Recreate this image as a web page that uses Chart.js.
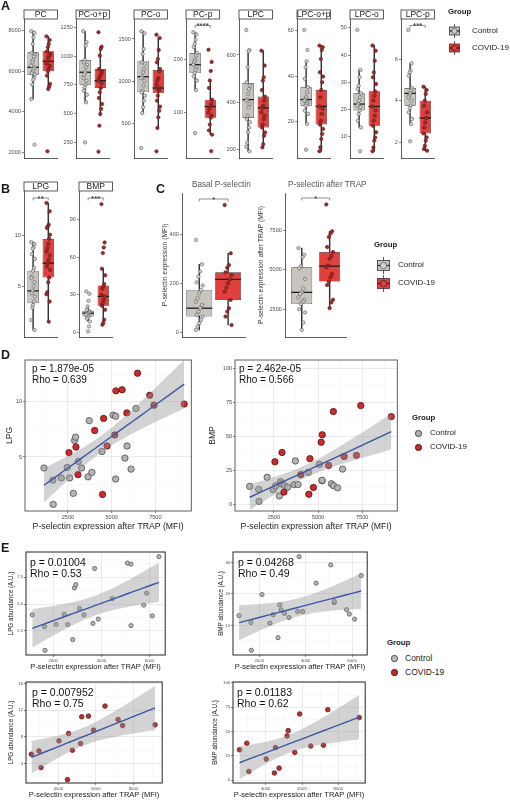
<!DOCTYPE html>
<html>
<head>
<meta charset="utf-8">
<title>Lipids and P-selectin in COVID-19</title>
<script src="https://cdn.jsdelivr.net/npm/chart.js"></script>
<style>
  body { margin: 0; background: #fff; }
  #fig { position: relative; width: 510px; height: 800px; overflow: hidden; font-family: "Liberation Sans", Arial, sans-serif; color: #1a1a1a; }
  #fig canvas { position: absolute; }
  .t { position: absolute; white-space: nowrap; line-height: 1; }
  .lbl { font-weight: bold; font-size: 12.5px; }
  .grp { font-weight: bold; font-size: 7.8px; }
  .leg { font-size: 8px; }
  .leg2 { font-size: 8.5px; }
  .stat { font-size: 10px; color: #111; }
  .stat2 { font-size: 10.5px; color: #111; }
  .ttl { font-size: 8.2px; color: #555; }
</style>
</head>
<body>
<div id="fig"></div>
<script>
// ---------- data: panel A (lipid classes by group) ----------
const groups = ['Control', 'COVID-19'];

const pcControl = [7970, 7890, 7670, 7340, 6900, 6820, 6720, 6550, 6440, 6270, 6190, 6110, 5990, 5900, 5830, 5670, 5580, 5340, 4630, 2380];
const pcCovid = [7720, 7540, 7340, 7180, 6980, 6850, 6770, 6650, 6490, 6390, 6270, 6110, 5990, 5780, 5370, 5240, 5120, 2050];
const pcBox = [[4630, 5830, 6190, 6930, 7970], [5120, 6000, 6490, 6980, 7720]]; // lo, q1, median, q3, hi
const pcTicks = [2000, 4000, 6000, 8000];

const pcopControl = [1215, 1120, 1091, 966, 946, 925, 902, 859, 838, 809, 786, 751, 728, 699, 664, 598, 250];
const pcopCovid = [1207, 1082, 1062, 1004, 888, 867, 850, 830, 809, 786, 763, 722, 685, 635, 583, 540, 496, 395, 169];
const pcopBox = [[598, 751, 859, 966, 1215], [496, 722, 786, 888, 1082]];
const pcopTicks = [250, 500, 750, 1000, 1250];

const pcoControl = [1591, 1567, 1381, 1322, 1223, 1204, 1144, 1105, 1053, 1038, 1006, 947, 887, 868, 828, 769, 690, 622, 207];
const pcoCovid = [1551, 1512, 1370, 1263, 1223, 1144, 1117, 1038, 1006, 958, 919, 887, 828, 769, 698, 650, 571, 445, 168];
const pcoBox = [[622, 868, 1053, 1243, 1591], [445, 856, 919, 1132, 1512]];
const pcoTicks = [500, 1000, 1500];

const pcpControl = [252, 248, 238, 230, 224, 213, 208, 200, 196, 191, 186, 181, 175, 169, 161, 143, 62];
const pcpCovid = [219, 196, 179, 161, 147, 125, 117, 112, 108, 101, 95, 91, 78, 67, 59, 28];
const pcpBox = [[143, 175, 191, 213, 252], [59, 91, 112, 125, 161]];
const pcpTicks = [100, 200];

const lpcControl = [706, 621, 616, 548, 484, 470, 455, 434, 410, 406, 392, 377, 342, 328, 314, 292, 271, 228, 210, 190];
const lpcCovid = [618, 555, 505, 491, 451, 423, 406, 384, 375, 356, 342, 328, 304, 292, 271, 257, 221, 207];
const lpcBox = [[190, 332, 410, 481, 621], [207, 292, 375, 423, 618]];
const lpcTicks = [200, 400, 600];

const lpcopControl = [60.3, 51.5, 46.5, 43.9, 38.8, 35.1, 32.9, 30.7, 29.7, 29.2, 28.5, 27.8, 27.0, 24.8, 23.4, 19.0, 7.6];
const lpcopCovid = [53.4, 52.7, 51.5, 47.5, 41.7, 39.8, 37.3, 33.9, 30.7, 26.7, 25.6, 23.4, 20.4, 18.7, 16.8, 14.6, 12.4, 8.7, 7.0];
const lpcopBox = [[19.0, 27.0, 29.7, 35.1, 46.5], [7.0, 18.7, 26.7, 33.9, 53.4]];
const lpcopTicks = [20, 40, 60];

const lpcoControl = [49.3, 34.5, 31.8, 28.7, 27.5, 25.9, 24.4, 23.2, 21.9, 21.3, 20.7, 19.5, 18.2, 15.8, 13.3, 4.5];
const lpcoCovid = [43.5, 41.6, 37.9, 33.6, 31.8, 29.3, 26.6, 25.0, 23.2, 21.0, 19.5, 17.6, 15.8, 13.9, 11.5, 9.6, 8.4, 5.9, 4.5];
const lpcoBox = [[13.3, 19.5, 21.9, 25.9, 34.5], [4.5, 13.9, 21.0, 26.6, 43.5]];
const lpcoTicks = [10, 20, 30, 40, 50];

const lpcpControl = [7.39, 5.79, 5.44, 5.36, 5.2, 4.61, 4.48, 4.35, 4.24, 4.16, 4.0, 3.76, 3.65, 3.44, 3.12, 2.88, 2.05];
const lpcpCovid = [4.67, 4.51, 4.32, 4.0, 3.76, 3.44, 3.17, 2.96, 2.72, 2.43, 2.24, 2.08, 1.84, 1.68, 1.6];
const lpcpBox = [[2.88, 3.76, 4.35, 4.61, 5.79], [1.6, 2.43, 3.17, 4.0, 4.67]];
const lpcpTicks = [2, 4, 6];

// ---------- data: panel B ----------
const lpgControl = [9.37, 9.18, 8.85, 8.72, 8.19, 7.73, 6.81, 6.55, 5.99, 5.82, 5.43, 5.0, 4.57, 4.34, 4.01, 3.52, 3.19, 2.93, 1.71, 0.72];
const lpgCovid = [13.22, 12.4, 11.09, 10.92, 10.76, 10.1, 9.7, 9.18, 8.78, 8.45, 8.06, 7.63, 7.3, 6.97, 6.64, 5.89, 5.43, 4.44, 4.24, 3.52, 1.54];
const lpgBox = [[0.72, 3.35, 4.57, 6.55, 9.37], [1.54, 5.89, 7.30, 9.67, 13.22]];
const lpgTicks = [5, 10];

const bmpControl = [32.6, 30.7, 25.1, 20.6, 17.9, 16.6, 15.8, 15.2, 14.4, 13.9, 13.4, 12.6, 11.8, 10.7, 8.6, 4.6, 0.6];
const bmpCovid = [102.5, 71.8, 67.8, 63.3, 50.8, 45.5, 38.5, 36.6, 34.7, 29.9, 28.6, 25.9, 23.3, 21.1, 17.9, 9.9, 7.3, 5.9];
const bmpBox = [[8.6, 12.6, 15.2, 17.1, 20.6], [5.9, 21.1, 28.6, 37.4, 50.8]];
const bmpTicks = [0, 30, 60, 90];

// ---------- data: panel C ----------
const basalControl = [380, 280, 250, 229, 206, 193, 175, 161, 141, 127, 113, 100, 86, 72, 66, 52, 38, 25, 11];
const basalCovid = [523, 325, 277, 266, 247, 236, 218, 202, 184, 168, 134, 100, 86, 66, 31];
const basalBox = [[11, 66, 100, 175, 280], [31, 134, 218, 247, 325]];
const basalTicks = [0, 200, 400];

const trapControl = [6372, 5947, 5798, 5223, 5095, 4414, 3819, 3563, 3457, 3244, 3095, 2967, 2818, 2499, 2286, 1648, 1180];
const trapCovid = [9139, 7436, 7287, 7074, 6436, 6117, 5861, 5691, 5266, 5159, 4734, 4521, 4244, 4031, 3095, 2925, 2563];
const trapBox = [[1180, 2818, 3563, 5159, 6372], [2563, 4244, 5223, 6117, 7436]];
const trapTicks = [2500, 5000, 7500];

// ---------- data: panels D and E (per subject) ----------
const ctrlPsel = [1130, 1640, 1660, 2120, 2460, 2600, 2810, 2880, 2940, 3090, 3280, 3650, 3720, 3870, 4450, 5080, 5230, 5230, 5760, 5880, 6110, 6390];
const ctrlLpg = [4.0, 2.9, 0.7, 3.1, 4.05, 3.1, 1.7, 6.5, 6.8, 4.6, 4.0, 3.2, 8.3, 3.6, 5.5, 8.8, 8.7, 3.0, 4.9, 6.0, 3.9, 9.4];
const ctrlBmp = [13.1, 10.9, 2.1, 19.8, 10.7, 13.4, 6.1, 16.5, 14.9, 13.8, 12.5, 14.4, 31.8, 14.4, 23.4, 29.2, 17.2, 17.6, 15.0, 13.6, 12.0, 25.8];

const covPsel = [2560, 2960, 3070, 4030, 4480, 4540, 4740, 5180, 5240, 5600, 5870, 6480, 7180, 7420, 9150];
const covLpg = [5.4, 5.9, 3.4, 7.4, 1.6, 8.5, 6.0, 7.0, 11.0, 11.1, 9.0, 12.6, 10.6, 9.7, 9.8];
const covBmp = [31.2, 38.0, 8.9, 21.7, 7.3, 33.5, 12.3, 45.5, 51.0, 28.5, 68.1, 35.1, 35.9, 72.5, 64.4];

const pselTicksD = [2500, 5000, 7500];
const lpgTicksD = [5, 10];
const bmpTicksD = [0, 25, 50, 75, 100];
const pselTicksE1 = [2000, 4000, 6000];
const pselTicksE2 = [4000, 6000, 8000];
const lpgTicksE1 = [2.5, 5, 7.5];
const bmpTicksE1 = [10, 20, 30];
const lpgTicksE2 = [4, 8, 12, 16];
const bmpTicksE2 = [0, 25, 50, 75, 100];

// ---------- styling ----------
const FONT = '"Liberation Sans", Arial, sans-serif';
const CTRL_BOX = '#c9c5be', COV_BOX = '#e1403d';
const CTRL_PT = '#d2d2d2', CTRL_EDGE = '#5a5a5a';
const COV_PT = '#a12b2b', COV_EDGE = '#5e1616';
const FIT_BLUE = '#3a57a7', BAND = 'rgba(150,150,150,0.42)';
const TICK_TXT = '#4d4d4d';

Chart.defaults.font.family = FONT;
Chart.defaults.animation = false;

const fig = document.getElementById('fig');

function addCanvas(left, top, w, h) {
  const c = document.createElement('canvas');
  c.width = Math.round(w);
  c.height = Math.round(h);
  c.style.left = left + 'px';
  c.style.top = top + 'px';
  fig.appendChild(c);
  return c;
}

function text(str, x, cy, cls, align) {
  const d = document.createElement('div');
  d.className = 't ' + cls;
  d.textContent = str;
  fig.appendChild(d);
  const fs = parseFloat(getComputedStyle(d).fontSize);
  d.style.top = (cy - 0.49 * fs) + 'px';
  d.style.left = (align === 'center' ? x - d.offsetWidth / 2 : x) + 'px';
}

// small deterministic spread around the category centre
function jitter(vals, cat) {
  return vals.map((v, i) => ({ x: cat + (((i * 7) % 9) - 4) * 0.03, y: v }));
}

// medians, facet strips and significance brackets for the box panels
const boxDeco = {
  id: 'boxDeco',
  afterDatasetDraw(chart, args) {
    const ds = chart.data.datasets[args.index];
    if (!ds.medians) return;
    const ctx = chart.ctx, ys = chart.scales.y;
    ctx.save();
    ctx.strokeStyle = '#1e1e1e';
    ctx.lineWidth = 1.3;
    args.meta.data.forEach((bar, i) => {
      const y = ys.getPixelForValue(ds.medians[i]);
      ctx.beginPath();
      ctx.moveTo(bar.x - bar.width / 2, y);
      ctx.lineTo(bar.x + bar.width / 2, y);
      ctx.stroke();
    });
    ctx.restore();
  },
  afterDraw(chart, args, opts) {
    const { ctx, chartArea: a } = chart;
    ctx.save();
    if (opts.strip) {
      const h = 9;
      ctx.fillStyle = '#fff';
      ctx.fillRect(a.left, a.top - h, a.right - a.left, h);
      ctx.strokeStyle = '#333';
      ctx.lineWidth = 0.8;
      ctx.strokeRect(a.left, a.top - h, a.right - a.left, h);
      ctx.fillStyle = '#1a1a1a';
      ctx.font = '8.5px ' + FONT;
      ctx.textAlign = 'center';
      ctx.textBaseline = 'middle';
      ctx.fillText(opts.strip, (a.left + a.right) / 2, a.top - h / 2 + 0.5);
    }
    if (opts.bracket) {
      const xs = chart.scales.x;
      const x1 = xs.getPixelForValue(1), x2 = xs.getPixelForValue(2);
      const y = a.top + opts.gap;
      ctx.strokeStyle = '#444';
      ctx.lineWidth = 0.6;
      ctx.beginPath();
      ctx.moveTo(x1, y + 2.5);
      ctx.lineTo(x1, y);
      ctx.lineTo(x2, y);
      ctx.lineTo(x2, y + 2.5);
      ctx.stroke();
      ctx.fillStyle = '#1a1a1a';
      ctx.font = '8px ' + FONT;
      ctx.textAlign = 'center';
      ctx.textBaseline = 'alphabetic';
      ctx.fillText(opts.bracket, (x1 + x2) / 2, y + 2.5);
    }
    ctx.restore();
  }
};

function boxPanel(o) {
  const aw = o.axisW || 22, pt = 12, pb = 6, pr = 3;
  const cv = addCanvas(o.L - aw, o.T - pt, aw + (o.R - o.L) + pr, pt + (o.B - o.T) + pb);
  const fmt = o.fmt || (v => String(v));
  new Chart(cv, {
    type: 'bar',
    data: {
      datasets: [
        { type: 'scatter', data: jitter(o.cov, 2), pointRadius: 1.7, backgroundColor: COV_PT, borderColor: COV_EDGE, borderWidth: 0.6 },
        { type: 'scatter', data: jitter(o.ctrl, 1), pointRadius: 1.7, backgroundColor: CTRL_PT, borderColor: CTRL_EDGE, borderWidth: 0.6 },
        {
          type: 'bar',
          data: [{ x: 1, y: [o.box[0][1], o.box[0][3]] }, { x: 2, y: [o.box[1][1], o.box[1][3]] }],
          medians: [o.box[0][2], o.box[1][2]],
          backgroundColor: [CTRL_BOX, COV_BOX], borderColor: '#333', borderWidth: 0.7, borderSkipped: false,
          grouped: false, categoryPercentage: 1, barPercentage: o.frac || 0.75
        },
        {
          type: 'bar',
          data: [{ x: 1, y: [o.box[0][0], o.box[0][4]] }, { x: 2, y: [o.box[1][0], o.box[1][4]] }],
          backgroundColor: '#333', barThickness: 0.8, grouped: false
        }
      ]
    },
    options: {
      responsive: false, animation: false, events: [],
      layout: { padding: { top: pt, bottom: pb, right: pr, left: 0 } },
      plugins: {
        legend: { display: false }, tooltip: { enabled: false },
        boxDeco: { strip: o.strip, bracket: o.bracket, gap: o.gap || 7 }
      },
      scales: {
        x: {
          type: 'linear', min: 0.4, max: 2.6, offset: false,
          afterBuildTicks: s => { s.ticks = [{ value: 1 }, { value: 2 }]; },
          ticks: { display: false }, grid: { display: false },
          border: { display: true, color: '#333', width: 0.8 },
          afterFit: s => { s.height = 0; }
        },
        y: {
          type: 'linear', min: o.range[0], max: o.range[1],
          afterBuildTicks: s => { s.ticks = o.ticks.map(v => ({ value: v })); },
          ticks: { font: { size: 5.5 }, color: TICK_TXT, padding: 1.2, callback: v => fmt(v) },
          grid: { drawOnChartArea: false, drawTicks: true, tickLength: 2, tickColor: '#333', tickWidth: 0.6 },
          border: { display: true, color: '#333', width: 0.8 },
          title: o.yTitle ? { display: true, text: o.yTitle, font: { size: 6.8 }, color: '#333', padding: { top: 1, bottom: 0 } } : { display: false },
          afterFit: s => { s.width = aw; }
        }
      }
    },
    plugins: [boxDeco]
  });
}

// ---------- regression with 95% band, evaluated at the observed x ----------
function fitBand(xs, ys) {
  const n = xs.length;
  const mx = xs.reduce((s, v) => s + v, 0) / n;
  const my = ys.reduce((s, v) => s + v, 0) / n;
  let sxx = 0, sxy = 0, sse = 0;
  xs.forEach((x, i) => { sxx += (x - mx) ** 2; sxy += (x - mx) * (ys[i] - my); });
  const b = sxy / sxx, a = my - b * mx;
  xs.forEach((x, i) => { sse += (ys[i] - a - b * x) ** 2; });
  const df = n - 2, s = Math.sqrt(sse / df);
  const t = 1.96 + 2.4 / df + 2.9 / (df * df);
  const mid = [], hi = [], lo = [];
  [...xs].sort((p, q) => p - q).forEach(x => {
    const yh = a + b * x, se = s * Math.sqrt(1 / n + (x - mx) ** 2 / sxx);
    mid.push({ x, y: yh });
    hi.push({ x, y: yh + t * se });
    lo.push({ x, y: yh - t * se });
  });
  return { mid, hi, lo };
}

function withMinor(major, range) {
  const half = (major[1] - major[0]) / 2, out = [];
  let v = major[0];
  while (v - half >= range[0]) v -= half;
  for (; v <= range[1] + 1e-9; v += half) out.push(+v.toFixed(6));
  return out;
}
const isMaj = (list, v) => list.some(m => Math.abs(m - v) < 1e-6);

const frameDeco = {
  id: 'frameDeco',
  afterDraw(chart, args, opts) {
    const { ctx, chartArea: a } = chart;
    ctx.save();
    ctx.strokeStyle = opts.color;
    ctx.lineWidth = opts.width;
    ctx.strokeRect(a.left, a.top, a.right - a.left, a.bottom - a.top);
    ctx.restore();
  }
};

function gridAxis(major, range, all, fmt, tickSize, title, titleSize, titlePad, fit) {
  return {
    type: 'linear', min: range[0], max: range[1],
    afterBuildTicks: s => { s.ticks = all.map(v => ({ value: v })); },
    ticks: { autoSkip: false, maxRotation: 0, font: { size: tickSize }, color: TICK_TXT, padding: 0.8,
      callback: v => isMaj(major, v) ? fmt(v) : '' },
    grid: {
      color: c => (c.tick && isMaj(major, c.tick.value)) ? '#e6e6e6' : '#f3f3f3',
      lineWidth: c => (c.tick && isMaj(major, c.tick.value)) ? 0.8 : 0.5,
      tickLength: 2, tickWidth: 0.6,
      tickColor: c => (c.tick && isMaj(major, c.tick.value)) ? '#333' : 'rgba(0,0,0,0)'
    },
    border: { display: false },
    title: { display: true, text: title, font: { size: titleSize }, color: '#1a1a1a', padding: titlePad },
    afterFit: fit
  };
}

function scatterPanel(o) {
  const pt = 8, pr = 4;
  const cv = addCanvas(o.left, o.T - pt, (o.R - o.left) + pr, pt + (o.B - o.T) + o.xh);
  const fit = fitBand(o.fitX, o.fitY);
  const xAll = withMinor(o.xMajor, o.xr), yAll = withMinor(o.yMajor, o.yr);
  new Chart(cv, {
    type: 'scatter',
    data: {
      datasets: [
        { type: 'line', data: fit.mid, borderColor: FIT_BLUE, borderWidth: 1.4, pointRadius: 0, fill: false, tension: 0 },
        { type: 'line', data: fit.hi, borderColor: 'rgba(0,0,0,0)', borderWidth: 0, pointRadius: 0, backgroundColor: BAND, fill: '+1', tension: 0 },
        { type: 'line', data: fit.lo, borderColor: 'rgba(0,0,0,0)', borderWidth: 0, pointRadius: 0, fill: false, tension: 0 },
        ...o.sets.map(s => ({
          data: s.x.map((v, i) => ({ x: v, y: s.y[i] })),
          pointRadius: o.r, backgroundColor: s.fill, borderColor: s.edge, borderWidth: o.bw
        }))
      ]
    },
    options: {
      responsive: false, animation: false, events: [],
      layout: { padding: { top: pt, right: pr, left: 0, bottom: 0 } },
      plugins: { legend: { display: false }, tooltip: { enabled: false }, frameDeco: { color: o.frame, width: o.frameW } },
      scales: {
        x: gridAxis(o.xMajor, o.xr, xAll, v => String(v), o.tick, 'P-selectin expression after TRAP (MFI)', o.xTitleSize,
          { top: 0, bottom: 0.8 }, s => { s.height = o.xh; }),
        y: gridAxis(o.yMajor, o.yr, yAll, o.yFmt || (v => String(v)), o.tick, o.yTitle, o.yTitleSize,
          { top: o.yPad, bottom: 0 }, s => { s.width = o.L - o.left; })
      }
    },
    plugins: [frameDeco]
  });
}

// ---------- panel A ----------
const aPanels = [
  { strip: 'PC', L: 24, ctrl: pcControl, cov: pcCovid, box: pcBox, range: [1720, 8575], ticks: pcTicks },
  { strip: 'PC-o+p', L: 76, ctrl: pcopControl, cov: pcopCovid, box: pcopBox, range: [114, 1322], ticks: pcopTicks },
  { strip: 'PC-o', L: 134, ctrl: pcoControl, cov: pcoCovid, box: pcoBox, range: [89, 1737], ticks: pcoTicks },
  { strip: 'PC-p', L: 186, ctrl: pcpControl, cov: pcpCovid, box: pcpBox, range: [15, 277], ticks: pcpTicks, bracket: '****' },
  { strip: 'LPC', L: 239, ctrl: lpcControl, cov: lpcCovid, box: lpcBox, range: [162, 753], ticks: lpcTicks },
  { strip: 'LPC-o+p', L: 297, ctrl: lpcopControl, cov: lpcopCovid, box: lpcopBox, range: [4.0, 65.1], ticks: lpcopTicks },
  { strip: 'LPC-o', L: 350, ctrl: lpcoControl, cov: lpcoCovid, box: lpcoBox, range: [2.0, 53.3], ticks: lpcoTicks },
  { strip: 'LPC-p', L: 401, ctrl: lpcpControl, cov: lpcpCovid, box: lpcpBox, range: [1.25, 7.92], ticks: lpcpTicks, bracket: '***' }
];
aPanels.forEach(p => boxPanel(Object.assign({ T: 18.5, B: 157, R: p.L + 35, gap: 6.5 }, p)));

// ---------- panel B ----------
boxPanel({ strip: 'LPG', L: 24, R: 59, T: 191, B: 337, ctrl: lpgControl, cov: lpgCovid, box: lpgBox, range: [0.03, 14.4], ticks: lpgTicks, bracket: '**', gap: 7 });
boxPanel({ strip: 'BMP', L: 79, R: 114, T: 191, B: 337, ctrl: bmpControl, cov: bmpCovid, box: bmpBox, range: [-3.9, 113], ticks: bmpTicks, bracket: '***', gap: 7 });

// ---------- panel C ----------
boxPanel({ L: 182, R: 247, T: 193, B: 337, axisW: 22, frac: 0.9, ctrl: basalControl, cov: basalCovid, box: basalBox,
  range: [-18, 572], ticks: basalTicks, bracket: '*', gap: 6, yTitle: 'P-selectin expression (MFI)' });
boxPanel({ L: 285, R: 348, T: 193, B: 337, axisW: 29, frac: 0.75, ctrl: trapControl, cov: trapCovid, box: trapBox,
  range: [733, 9862], ticks: trapTicks, bracket: '*', gap: 5, yTitle: 'P-selectin expression after TRAP (MFI)' });

// ---------- panel D ----------
const dCtrl = { fill: '#b4b4b4', edge: '#3d3d3d' }, dCov = { fill: '#cf2a2a', edge: '#3d1010' };
scatterPanel({
  left: 0, L: 25, T: 360, R: 192, B: 511, xh: 22, xr: [45, 9556], yr: [0.1, 13.8],
  xMajor: pselTicksD, yMajor: lpgTicksD, tick: 5.6, xTitleSize: 8.7, yTitle: 'LPG', yTitleSize: 8.5, yPad: 4.5,
  sets: [Object.assign({ x: covPsel, y: covLpg }, dCov), Object.assign({ x: ctrlPsel, y: ctrlLpg }, dCtrl)],
  fitX: ctrlPsel.concat(covPsel), fitY: ctrlLpg.concat(covLpg), r: 3.2, bw: 0.7, frame: '#4d4d4d', frameW: 0.9
});
scatterPanel({
  left: 205, L: 235, T: 360, R: 398, B: 511, xh: 22, xr: [300, 9490], yr: [-5, 106],
  xMajor: pselTicksD, yMajor: bmpTicksD, tick: 5.6, xTitleSize: 8.7, yTitle: 'BMP', yTitleSize: 8.5, yPad: 2.8,
  sets: [Object.assign({ x: covPsel, y: covBmp }, dCov), Object.assign({ x: ctrlPsel, y: ctrlBmp }, dCtrl)],
  fitX: ctrlPsel.concat(covPsel), fitY: ctrlBmp.concat(covBmp), r: 3.2, bw: 0.7, frame: '#4d4d4d', frameW: 0.9
});

// ---------- panel E ----------
const eCtrl = { fill: '#b9b9b9', edge: '#555' }, eCov = { fill: '#b83030', edge: '#6a1a1a' };
scatterPanel({
  left: 0, L: 26, T: 552, R: 166, B: 655, xh: 17, xr: [870, 6650], yr: [0.27, 9.83],
  xMajor: pselTicksE1, yMajor: lpgTicksE1, yFmt: v => v.toFixed(1), tick: 4.3, xTitleSize: 7.5,
  yTitle: 'LPG abundance (A.U.)', yTitleSize: 6.3, yPad: 7,
  sets: [Object.assign({ x: ctrlPsel, y: ctrlLpg }, eCtrl)], fitX: ctrlPsel, fitY: ctrlLpg, r: 2.1, bw: 0.8, frame: '#262626', frameW: 1
});
scatterPanel({
  left: 215, L: 233, T: 552, R: 368, B: 655, xh: 17, xr: [870, 6650], yr: [0.6, 33.3],
  xMajor: pselTicksE1, yMajor: bmpTicksE1, tick: 4.3, xTitleSize: 7.5,
  yTitle: 'BMP abundance (A.U.)', yTitleSize: 6.3, yPad: 2.1,
  sets: [Object.assign({ x: ctrlPsel, y: ctrlBmp }, eCtrl)], fitX: ctrlPsel, fitY: ctrlBmp, r: 2.1, bw: 0.8, frame: '#262626', frameW: 1
});
scatterPanel({
  left: 0, L: 26, T: 682, R: 163, B: 783, xh: 17, xr: [2270, 9530], yr: [1.1, 16.2],
  xMajor: pselTicksE2, yMajor: lpgTicksE2, tick: 4.3, xTitleSize: 7.5,
  yTitle: 'LPG abundance (A.U.)', yTitleSize: 6.3, yPad: 7,
  sets: [Object.assign({ x: covPsel, y: covLpg }, eCov)], fitX: covPsel, fitY: covLpg, r: 2.3, bw: 0.8, frame: '#262626', frameW: 1
});
scatterPanel({
  left: 209, L: 233, T: 682, R: 366, B: 783, xh: 17, xr: [2200, 9480], yr: [-3, 101],
  xMajor: pselTicksE2, yMajor: bmpTicksE2, tick: 4.3, xTitleSize: 7.5,
  yTitle: 'BMP abundance (A.U.)', yTitleSize: 6.3, yPad: 2.1,
  sets: [Object.assign({ x: covPsel, y: covBmp }, eCov)], fitX: covPsel, fitY: covBmp, r: 2.3, bw: 0.8, frame: '#262626', frameW: 1
});

// ---------- legends and labels ----------
function boxGlyph(x, cy, w, h, stub, fill, dotFill, dotEdge, r) {
  const H = h + 2 * stub, d = document.createElement('div');
  d.style.cssText = `position:absolute;left:${x}px;top:${cy - H / 2}px;width:${w}px;height:${H}px`;
  d.innerHTML = `<svg width="${w}" height="${H}" viewBox="0 0 ${w} ${H}">
    <line x1="${w / 2}" y1="0" x2="${w / 2}" y2="${H}" stroke="#333" stroke-width="0.8"/>
    <rect x="0.5" y="${stub}" width="${w - 1}" height="${h}" fill="${fill}" stroke="#333" stroke-width="0.8"/>
    <line x1="0.5" y1="${H / 2}" x2="${w - 0.5}" y2="${H / 2}" stroke="#1e1e1e" stroke-width="1.2"/>
    <circle cx="${w / 2}" cy="${H / 2}" r="${r}" fill="${dotFill}" stroke="${dotEdge}" stroke-width="0.8"/></svg>`;
  fig.appendChild(d);
}
function dotGlyph(cx, cy, r, fill, edge) {
  const d = document.createElement('div');
  d.style.cssText = `position:absolute;left:${cx - r}px;top:${cy - r}px;width:${2 * r - 1}px;height:${2 * r - 1}px;` +
    `border-radius:50%;background:${fill};border:0.8px solid ${edge}`;
  fig.appendChild(d);
}

text('A', 1, 6.5, 'lbl');
text('B', 1, 189, 'lbl');
text('C', 156, 189, 'lbl');
text('D', 1, 355.5, 'lbl');
text('E', 1, 548.5, 'lbl');

text('Basal P-selectin', 192, 185, 'ttl');
text('P-selectin after TRAP', 288, 185, 'ttl');

// legend of A
text('Group', 448, 11.5, 'grp');
boxGlyph(449, 31, 11, 8, 3, CTRL_BOX, CTRL_PT, CTRL_EDGE, 2.6);
boxGlyph(449, 48, 11, 8, 3, COV_BOX, COV_BOX, COV_EDGE, 2.6);
text(groups[0], 472, 31, 'leg');
text(groups[1], 472, 48, 'leg');

// legend of C
text('Group', 374, 245, 'grp');
boxGlyph(377, 265, 13, 10, 3.5, CTRL_BOX, CTRL_PT, CTRL_EDGE, 3.2);
boxGlyph(377, 283, 13, 10, 3.5, COV_BOX, COV_BOX, COV_EDGE, 3.2);
text(groups[0], 398, 265, 'leg');
text(groups[1], 398, 283, 'leg');

// legend of D
text('Group', 412, 418, 'grp');
dotGlyph(418, 433, 2.8, dCtrl.fill, dCtrl.edge);
dotGlyph(418, 447, 2.8, dCov.fill, dCov.edge);
text(groups[0], 430, 433, 'leg');
text(groups[1], 430, 447, 'leg');

// legend of E
text('Group', 387, 643, 'grp');
dotGlyph(394, 658, 2.6, eCtrl.fill, eCtrl.edge);
dotGlyph(394, 672, 2.6, eCov.fill, eCov.edge);
text(groups[0], 405, 658, 'leg2');
text(groups[1], 405, 672, 'leg2');

// correlation statistics
text('p = 1.879e-05', 32, 369, 'stat');
text('Rho = 0.639', 32, 380, 'stat');
text('p = 2.462e-05', 239, 369, 'stat');
text('Rho = 0.566', 239, 380, 'stat');
text('p = 0.01004', 30, 562, 'stat2');
text('Rho = 0.53', 30, 573, 'stat2');
text('p = 0.04268', 238, 562, 'stat2');
text('Rho = 0.49', 238, 573, 'stat2');
text('p = 0.007952', 32, 692, 'stat2');
text('Rho = 0.75', 32, 703, 'stat2');
text('p = 0.01183', 237, 692, 'stat2');
text('Rho = 0.62', 237, 703, 'stat2');
</script>
</body>
</html>
